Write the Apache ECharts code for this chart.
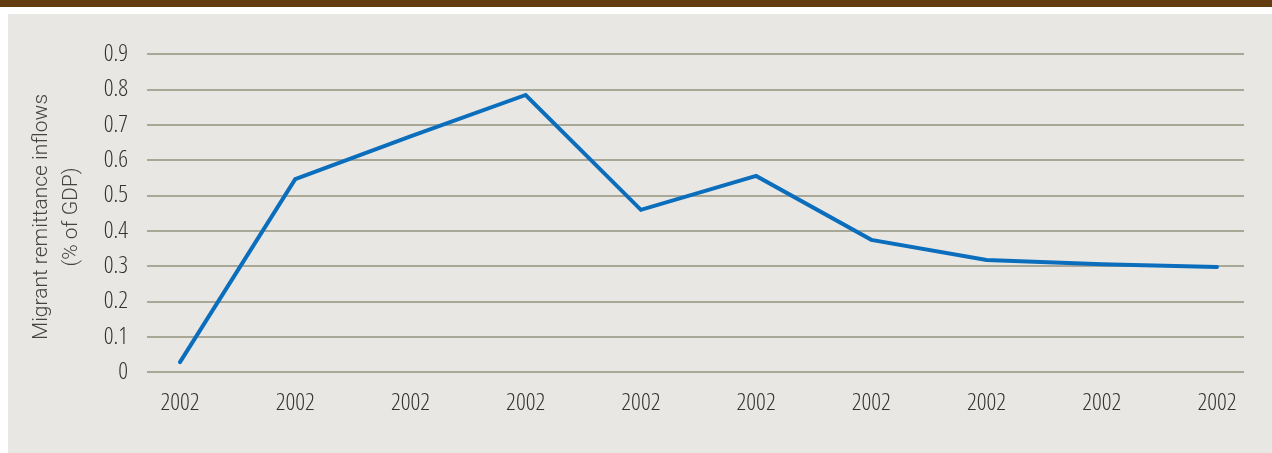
<!DOCTYPE html>
<html>
<head>
<meta charset="utf-8">
<script src="https://cdn.jsdelivr.net/npm/echarts@6/dist/echarts.min.js"></script>
<style>
  html, body { margin: 0; padding: 0; background: #fff; }
  #main { width: 1272px; height: 453px; }
</style>
</head>
<body>
<div id="main"></div>
<script>
const mainPage = document.getElementById('main')
var myChart = echarts.init(mainPage);

// data
const years = ['2002', '2002', '2002', '2002', '2002', '2002', '2002', '2002', '2002', '2002']
const inflows = [0.028, 0.546, 0.667, 0.784, 0.459, 0.555, 0.374, 0.317, 0.305, 0.297]
const yName = 'Migrant remittance inflows\n(% of GDP)'

// condensed light face for tick labels
const tickFont = { fontFamily: '"Open Sans", sans-serif', fontWeight: '300 condensed', fontSize: 24, color: '#333' }

var option = {
  backgroundColor: '#fff',
  animation: false,
  graphic: [
    { type: 'rect', left: 0, top: 0, shape: { width: 1272, height: 7 }, style: { fill: '#633c11' }, z: -10 },
    { type: 'rect', left: 8, top: 14, shape: { width: 1264, height: 439 }, style: { fill: '#e9e7e3' }, z: -10 }
  ],
  grid: [
    { left: 147, right: 28, top: 54, bottom: 81 },
    { left: 180, right: 55, top: 54, bottom: 81 }
  ],
  xAxis: [
    { gridIndex: 0, type: 'value', min: 0, max: 1, show: false },
    {
      gridIndex: 1,
      type: 'category',
      data: years,
      boundaryGap: false,
      axisLine: { show: false },
      axisTick: { show: false },
      axisLabel: { ...tickFont, margin: 19 }
    }
  ],
  yAxis: [
    {
      gridIndex: 0,
      type: 'value',
      min: 0,
      max: 0.9,
      interval: 0.1,
      name: yName,
      nameLocation: 'middle',
      nameGap: 60,
      nameTextStyle: {
        color: '#444', fontFamily: 'Roboto', fontWeight: 300, fontSize: 21, lineHeight: 30,
        padding: [0, 8, 0, 0]
      },
      axisLine: { show: false },
      axisTick: { show: false },
      axisLabel: {
        ...tickFont, margin: 19,
        formatter: v => (Math.round(v * 10) / 10).toString()
      },
      splitLine: { lineStyle: { color: '#a9a897', width: 2 } }
    },
    { gridIndex: 1, type: 'value', min: 0, max: 0.9, show: false }
  ],
  series: [{
    name: 'Inflows',
    type: 'line',
    xAxisIndex: 1,
    yAxisIndex: 1,
    data: inflows,
    symbol: 'none',
    lineStyle: { color: '#0a6ebd', width: 4, cap: 'round', join: 'miter' }
  }]
};

myChart.setOption(option);
</script>
</body>
</html>
